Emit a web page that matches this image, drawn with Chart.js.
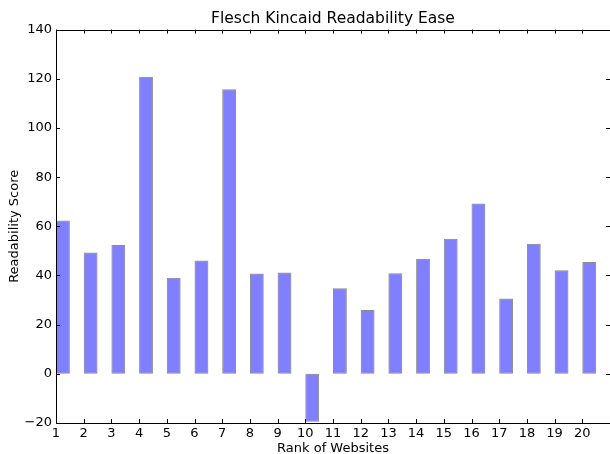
<!DOCTYPE html>
<html>
<head>
<meta charset="utf-8">
<script src="https://cdn.jsdelivr.net/npm/chart.js@4"></script>
<style>
  html, body { margin: 0; padding: 0; background: #fff; }
  #wrap { width: 610px; height: 454px; }
</style>
</head>
<body>
<div id="wrap"><canvas id="readabilityChart"></canvas></div>
<script>
// Data
const ranks = [1, 2, 3, 4, 5, 6, 7, 8, 9, 10, 11, 12, 13, 14, 15, 16, 17, 18, 19, 20];
const scores = [62.4, 49.3, 52.4, 120.8, 39.1, 46.1, 115.7, 40.8, 41.2, -19.5,
                34.8, 26.0, 40.9, 46.8, 54.9, 69.3, 30.6, 52.9, 42.1, 45.5];
const yTicks = [-20, 0, 20, 40, 60, 80, 100, 120, 140];
const xTicks = ranks;

const FONT = "'DejaVu Sans', sans-serif";

// matplotlib-like frame with inward ticks on all four sides
const frameTicks = {
  id: "frameTicks",
  afterDraw(chart) {
    const { ctx, chartArea: a, scales: { x, y } } = chart;
    ctx.save();
    ctx.strokeStyle = "#000";
    ctx.lineWidth = 1;
    ctx.beginPath();
    x.ticks.forEach(t => {
      const px = Math.round(x.getPixelForValue(t.value)) + 0.5;
      ctx.moveTo(px, a.bottom); ctx.lineTo(px, a.bottom - 4);
      ctx.moveTo(px, a.top); ctx.lineTo(px, a.top + 4);
    });
    y.ticks.forEach(t => {
      const py = Math.round(y.getPixelForValue(t.value)) + 0.5;
      ctx.moveTo(a.left, py); ctx.lineTo(a.left + 4, py);
      ctx.moveTo(a.right, py); ctx.lineTo(a.right - 4, py);
    });
    ctx.stroke();
    ctx.strokeRect(Math.round(a.left) + 0.5, Math.round(a.top) + 0.5,
                   Math.round(a.right - a.left), Math.round(a.bottom - a.top));
    ctx.restore();
  }
};

new Chart(document.getElementById("readabilityChart"), {
  type: "bar",
  data: {
    datasets: [{
      label: "Readability Score",
      // bars sit on the right of each rank (edge aligned, width 0.5)
      data: ranks.map((r, i) => ({ x: r + 0.25, y: scores[i] })),
      backgroundColor: "rgba(0, 0, 255, 0.5)",
      borderColor: "rgba(0, 0, 0, 0.45)",
      borderWidth: 1,
      borderSkipped: false,
      categoryPercentage: 1,
      barPercentage: 0.5
    }]
  },
  options: {
    responsive: true,
    maintainAspectRatio: false,
    animation: false,
    devicePixelRatio: 1,
    layout: { padding: { left: 0, right: -2, top: 0, bottom: 0 } },
    plugins: {
      legend: { display: false },
      tooltip: { enabled: false },
      title: {
        display: true,
        text: "Flesch Kincaid Readability Ease",
        color: "#000",
        fullSize: false,
        font: { family: FONT, size: 15.5, weight: "normal" },
        padding: { top: 10, bottom: 1 }
      }
    },
    scales: {
      x: {
        type: "linear",
        min: 1,
        max: 21,
        offset: false,
        grid: { display: false, drawTicks: false },
        border: { display: false },
        afterBuildTicks: scale => {
          scale.ticks = xTicks.map(v => ({ value: v }));
        },
        afterFit: scale => { scale.height = 31; },
        ticks: {
          color: "#000",
          font: { family: FONT, size: 13 },
          padding: 3,
          maxRotation: 0,
          autoSkip: false
        },
        title: {
          display: true,
          text: "Rank of Websites",
          color: "#000",
          font: { family: FONT, size: 13 },
          padding: { top: 0, bottom: -2 }
        }
      },
      y: {
        min: -20,
        max: 140,
        grid: { display: false, drawTicks: false },
        border: { display: false },
        afterBuildTicks: scale => {
          scale.ticks = yTicks.map(v => ({ value: v }));
        },
        afterFit: scale => { scale.width = 56; },
        ticks: {
          color: "#000",
          font: { family: FONT, size: 13 },
          padding: 4,
          callback: v => String(v).replace("-", "\u2212")
        },
        title: {
          display: true,
          text: "Readability Score",
          color: "#000",
          font: { family: FONT, size: 13 },
          padding: { top: 7, bottom: 0 }
        }
      }
    }
  },
  plugins: [frameTicks]
});
</script>
</body>
</html>
